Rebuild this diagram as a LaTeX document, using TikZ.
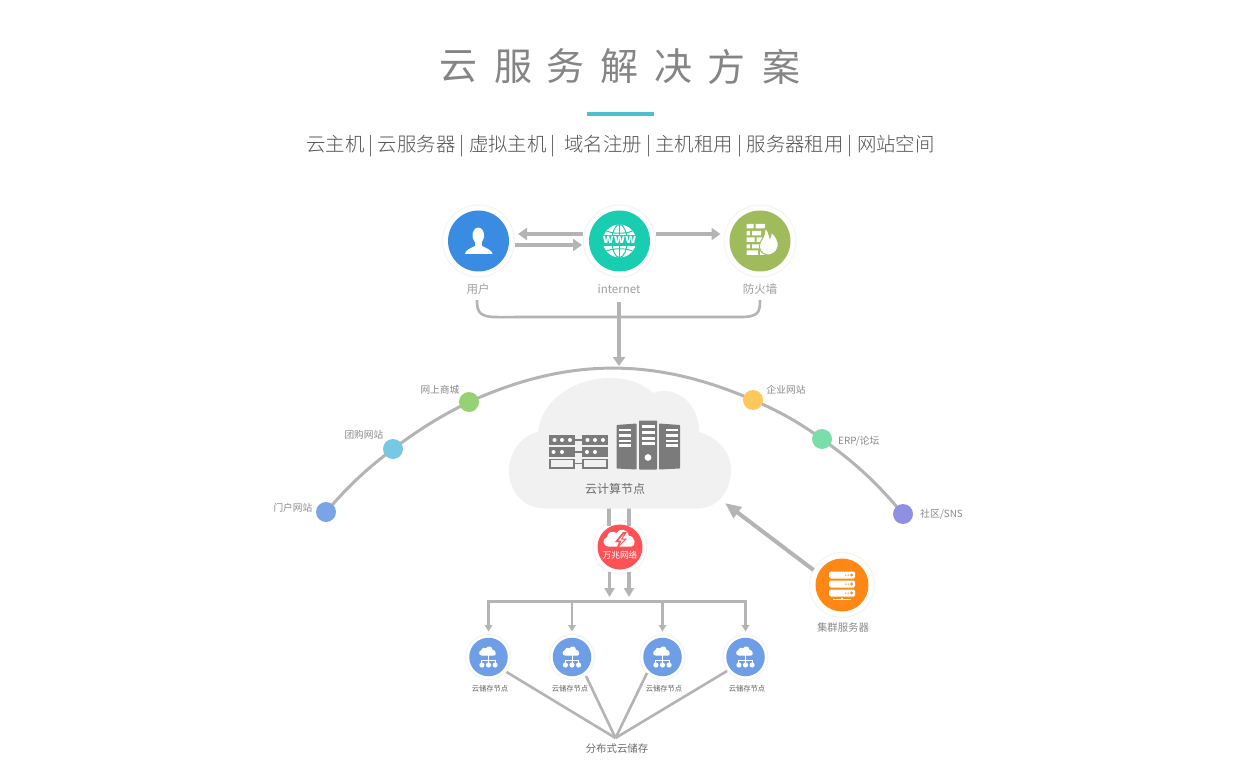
\documentclass[tikz,border=0pt]{standalone}
\usepackage{fontspec}
\setmainfont{Noto Sans CJK SC}
\newfontfamily\lightf{Noto Sans CJK SC Light}
\usetikzlibrary{arrows.meta,calc}
\definecolor{ln}{HTML}{B4B4B4}
\definecolor{ringc}{HTML}{F4F4F4}
\definecolor{cl}{HTML}{F1F1F1}
\definecolor{ic}{HTML}{7B7B7B}
\definecolor{cblue}{HTML}{3A8CE2}
\definecolor{cteal}{HTML}{19CDB1}
\definecolor{cgreen}{HTML}{A0BB5B}
\definecolor{cred}{HTML}{FF5257}
\definecolor{corg}{HTML}{FF8714}
\definecolor{cstore}{HTML}{6E9EE6}
\definecolor{crule}{HTML}{4DBFD0}
\definecolor{da}{HTML}{7BA3E8}
\definecolor{db}{HTML}{76C8E4}
\definecolor{dc}{HTML}{96D274}
\definecolor{dd}{HTML}{FFC85C}
\definecolor{de}{HTML}{7BDDAA}
\definecolor{df}{HTML}{9090E2}
\newcommand{\fs}[1]{\fontsize{#1pt}{#1pt}\selectfont}
\tikzset{
 x=1pt,y=-1pt,
 disc/.style={circle,inner sep=0pt,minimum size=#1},
 halo/.style={circle,draw=ringc,line width=1pt,fill=white,inner sep=0pt,minimum size=#1},
 lbl/.style={inner sep=0pt,text=#1},
 dotc/.style={circle,inner sep=0pt,minimum size=20pt,fill=#1},
 thickarrow/.style={draw=ln,line width=4pt,-{Triangle[length=9pt,width=12pt]}},
 bigarrow/.style={draw=ln,line width=4pt,-{Triangle[length=16pt,width=13pt]}},
 thinarrow/.style={draw=ln,line width=2.8pt,-{Triangle[length=6.5pt,width=7.5pt]}},
 midarrow/.style={draw=ln,line width=3.6pt,-{Triangle[length=9pt,width=10pt]}},
 conn/.style={draw=ln,line width=3pt},
}
\newcommand{\cloudicon}[3]{\fill[#3,shift={#1},scale=#2]
 (-9,6) .. controls (-13,6) and (-14,0) .. (-10,-1)
 .. controls (-10,-5) and (-5,-6) .. (-3,-4)
 .. controls (-1,-8) and (6,-7) .. (6,-2)
 .. controls (11,-2) and (12,6) .. (8,6) -- cycle;}
\newcommand{\storeicon}[1]{%
 \begin{scope}[shift={(#1)}]
 \cloudicon{(-0.3,-5.8)}{0.72}{white}
 \draw[white,line width=1pt] (0,-2) -- (0,3)
   (-6.6,7) -- (-6.6,3) -- (6.6,3) -- (6.6,7) (0,3) -- (0,7);
 \foreach \dx in {-6.6,0,6.6} \fill[white] (\dx,8) circle (2.6);
 \end{scope}}
\begin{document}
\begin{tikzpicture}
\useasboundingbox (0,0) rectangle (1240,770);
\fill[white] (0,0) rectangle (1240,770);
% title
\foreach \cx/\ch in {458/云,513/服,565/务,619/解,673/决,726/方,781/案}
  \node[lbl=black!48] at (\cx,66.5) {\fs{38}\ch};
\fill[crule] (587,112) rectangle (654,116);
\node[lbl=black!68] (sub) at (620.5,146.5) {\lightf\fs{19.4}云主机 | 云服务器 | 虚拟主机 |\ \ 域名注册 | 主机租用 | 服务器租用 | 网站空间};

% top circles
\node[halo=72pt] (user) at (478.5,241) {};
\node[halo=72pt] (net) at (619.5,241) {};
\node[halo=72pt] (fw) at (760,241) {};
\node[disc=61pt,fill=cblue] (userc) at (user) {};
\node[disc=61pt,fill=cteal] (netc) at (net) {};
\node[disc=61pt,fill=cgreen] (fwc) at (fw) {};
\node[lbl=black!38] (userl) at (478,289.5) {\fs{11.5}用户};
\node[lbl=black!38] (netl) at (619,289.5) {\fs{11.5}internet};
\node[lbl=black!38] (fwl) at (760,289.5) {\fs{11.5}防火墙};
% person
\fill[white] (478.3,235.5) ellipse (5.8 and 8);
\fill[white] (475,240) rectangle (482,247);
\fill[white] (465,254) .. controls (465,250) and (471,248) .. (475,246) -- (482,246)
  .. controls (486,248) and (492,250) .. (492.5,254) -- cycle;
% globe
\begin{scope}[shift={(619.5,241)}]
 \fill[white] (0,0) circle (16.5);
 \draw[cteal,line width=1pt] (0,0) ellipse (7.5 and 16.5);
 \draw[cteal,line width=1pt] (0,-16.5) -- (0,-5) (0,5) -- (0,16.5);
 \draw[cteal,line width=1pt] (-13,-10) .. controls (-6,-7) and (6,-7) .. (13,-10);
 \draw[cteal,line width=1pt] (-13,10) .. controls (-6,7) and (6,7) .. (13,10);
 \fill[cteal] (-18,-5.5) rectangle (18,5.5);
 \node[lbl=white] at (0,-0.8) {\fs{12.5}\bfseries www};
\end{scope}
% firewall
\begin{scope}[shift={(760,241)}]
 \fill[white] (-13.5,-17) rectangle (-6.5,-12.5) (-4.5,-17) rectangle (5,-12.5)
 (-13.5,-10) rectangle (-10,-5.5) (-8,-10) rectangle (1,-5.5)
 (-13.5,-3.5) rectangle (-5.5,1) (-3.5,-3.5) rectangle (2,1)
 (-13.5,3.5) rectangle (-10,7.5) (-8,3.5) rectangle (0,7.5)
 (-13.5,9.5) rectangle (-2,14) (0,9.5) rectangle (5,14);
 \fill[white,draw=cgreen,line width=1pt] (5,-13) .. controls (10,-9) and (8,-6) .. (10,-3) .. controls (12,-5) and (11,-8) .. (10.5,-10)
  .. controls (16,-5) and (19,0) .. (18,6) .. controls (17,12) and (10,14.5) .. (7,14)
  .. controls (1,13) and (-2,7) .. (0,2) .. controls (1,-1) and (5,-4) .. (5,-13) -- cycle;
\end{scope}
% top arrows
\coordinate (a1s) at ($(net.west)+(0,-7)$);
\coordinate (a1e) at ($(user.east)+(3,-7)$);
\coordinate (a2s) at ($(user.east)+(0,4)$);
\coordinate (a2e) at ($(net.west)+(-1,4)$);
\coordinate (a3s) at ($(net.east)+(0,-7)$);
\coordinate (a3e) at ($(fw.west)+(-3,-7)$);
\draw[thickarrow] (a1s) -- (a1e);
\draw[thickarrow] (a2s) -- (a2e);
\draw[thickarrow] (a3s) -- (a3e);
% brace
\draw[draw=ln,line width=2.6pt] ($(userl.south)+(-1,5)$) .. controls ($(userl.south)+(-1,18)$) and ($(userl.south)+(2,22)$) .. ($(userl.south)+(20,22)$)
  -- ($(fwl.south)+(-20,22)$) .. controls ($(fwl.south)+(-2,22)$) and ($(fwl.south)+(0,18)$) .. ($(fwl.south)+(0,5)$);
\coordinate (apex) at (619,366);
\draw[thickarrow] (netl.south |- 0,302) -- (apex);

% arc and dots
\coordinate (p1) at (326,512); \coordinate (p2) at (393,449); \coordinate (p3) at (469,402);
\coordinate (p4) at (753,400); \coordinate (p5) at (822,439); \coordinate (p6) at (903,514);
\draw[conn,looseness=0.97] (p1) to[bend left=6] (p2) to[bend left=5] (p3) to[bend left=24] (p4) to[bend left=6] (p5) to[bend left=7] (p6);
\node[dotc=da] (d1) at (p1) {};
\node[dotc=db] (d2) at (p2) {};
\node[dotc=dc] (d3) at (p3) {};
\node[dotc=dd] (d4) at (p4) {};
\node[dotc=de] (d5) at (p5) {};
\node[dotc=df] (d6) at (p6) {};
\node[lbl=black!46,anchor=east] at (312.5,507.5) {\fs{9.7}门户网站};
\node[lbl=black!46,anchor=east] at (383.5,435) {\fs{9.7}团购网站};
\node[lbl=black!46,anchor=east] at (459.5,390) {\fs{9.7}网上商城};
\node[lbl=black!46,anchor=west] at (766.5,390) {\fs{9.7}企业网站};
\node[lbl=black!46,anchor=west] at (838,441.5) {\fs{9.9}ERP/论坛};
\node[lbl=black!46,anchor=west] at (920,514.5) {\fs{9.9}社区/SNS};

% lines through the network node, below the cloud
\coordinate (cl1) at (609,506); \coordinate (cl2) at (629,506);
\node[halo=54pt] (wan) at (620,547) {};
\coordinate (ar1) at (609.5,597); \coordinate (ar2) at (629,597);
\draw[conn,line width=3.6pt] (cl1) -- (609,526);
\draw[conn,line width=3.6pt] (cl2) -- (629,526);
\draw[midarrow] (609.5,572) -- (ar1);
\draw[midarrow] (629,572) -- (ar2);

% main cloud
\fill[cl] (545,508.5) .. controls (524,508.5) and (509,492) .. (509,471)
  .. controls (509,451) and (522,436) .. (538,432)
  .. controls (541,400) and (575,378) .. (610,378)
  .. controls (628,378) and (644,384) .. (653,393)
  .. controls (676,384) and (700,405) .. (699,432)
  .. controls (717,437) and (731,452) .. (731,470)
  .. controls (731,492) and (717,508.5) .. (697,508.5) -- cycle;
% racks
\begin{scope}[ic]
 \foreach \xx in {549,582} {
  \fill (\xx,435) rectangle ++(26,10);
  \fill (\xx,447) rectangle ++(26,10);
  \draw[line width=1.6pt] (\xx+0.8,459.3) rectangle ++(24.4,8.4);
 }
 \draw[line width=1.3pt] (575,440) -- (582,440) (575,452) -- (582,452) (575,463.5) -- (582,463.5);
 \foreach \xx/\yy in {554.5/440,562/440,570/440,587.5/440,595/440,603/440,553.5/452,562/452,587/452,595/452}
   \fill[white] (\xx,\yy) circle (2);
 % towers
 \fill[rounded corners=0.6pt] (616.5,425) -- (636.5,423.5) -- (636.5,469.5) -- (616.5,468.5) -- cycle;
 \fill[rounded corners=0.6pt] (639,420.5) rectangle (657,469.5);
 \fill[rounded corners=0.6pt] (659,423.5) -- (680,425) -- (680,468.5) -- (659,469.5) -- cycle;
 \foreach \yy in {428.5,434,439.5,444} {
   \fill[white] (619,\yy) rectangle ++(11.5,2.6);
   \fill[white] (666,\yy) rectangle ++(11.5,2.6);
 }
 \foreach \yy in {425,431,436.5,441.5} \fill[white] (641.5,\yy) rectangle ++(13,3);
 \fill[white] (648,457.5) circle (3.4);
\end{scope}
\node[lbl=black!58] (cloudl) at (615,488.5) {\fs{12}云计算节点};

% network node
\node[disc=45pt,fill=cred] (wanc) at (wan) {};
\cloudicon{(620.5,538.5)}{1.35}{white}
\fill[cred] (623,532) -- (615,542) -- (619,542) -- (616,549.5) -- (627,538.5) -- (622.5,538.5) -- (627,532) -- cycle;
\fill[white] (624,534) -- (618.5,540.5) -- (622,540.5) -- (619.5,545) -- (624.5,539.5) -- (620.8,539.5) -- cycle;
\node[lbl=white] at (620,555.5) {\fs{8.6}万兆网络};

% cluster server
\node[halo=65pt] (srv) at (842,585) {};
\node[disc=53pt,fill=corg] (srvc) at (srv) {};
\begin{scope}[shift={(842,585)}]
 \foreach \yy in {-13.5,-4.5,4.5} {
  \fill[white,rounded corners=1.5pt] (-13,\yy) rectangle ++(26,7);
  \fill[corg] (9.5,\yy+3.5) circle (1.5);
  \fill[corg] (3,\yy+3) rectangle ++(1.3,1) (5.5,\yy+3) rectangle ++(1.3,1);
 }
 \draw[white,line width=0.7pt] (-9,14) -- (9,14);
 \fill[white] (0,14) circle (1.3);
\end{scope}
\node[lbl=black!46] (srvl) at (843,628) {\fs{10.4}集群服务器};
\coordinate (srvend) at (725,503);
\draw[bigarrow] (813.5,570) -- (srvend);

% storage bus
\node[halo=45pt] (s1) at (488.5,657) {};
\node[halo=45pt] (s2) at (572,657) {};
\node[halo=45pt] (s3) at (662.5,657) {};
\node[halo=45pt] (s4) at (745.5,657) {};
\coordinate (b1) at (s1 |- 0,601); \coordinate (b2) at (s2 |- 0,601);
\coordinate (b3) at (s3 |- 0,601); \coordinate (b4) at (s4 |- 0,601);
\draw[conn] ([xshift=-1.4]b1) -- ([xshift=1.4]b4);
\foreach \n in {1,2,3,4} {
 \node[disc=38.5pt,fill=cstore] (sc\n) at (s\n) {};
 \storeicon{s\n}
 \draw[thinarrow] ([yshift=-1.5]b\n) -- ($(s\n.north)+(0,-2.5)$);
}
\node[lbl=black!62] at (490,688.5) {\fs{7.3}云储存节点};
\node[lbl=black!62] at (570,688.5) {\fs{7.3}云储存节点};
\node[lbl=black!62] at (664,688.5) {\fs{7.3}云储存节点};
\node[lbl=black!62] at (747,688.5) {\fs{7.3}云储存节点};
\node[lbl=black!58] (dist) at (617,749) {\fs{10.4}分布式云储存};
\coordinate (hub) at (615.5,738);
\draw[conn,line width=2.6pt] (506.5,672) -- (hub);
\draw[conn,line width=2.6pt] (586,676) -- (hub);
\draw[conn,line width=2.6pt] (647,673) -- (hub);
\draw[conn,line width=2.6pt] (727,671) -- (hub);
\end{tikzpicture}
\end{document}
